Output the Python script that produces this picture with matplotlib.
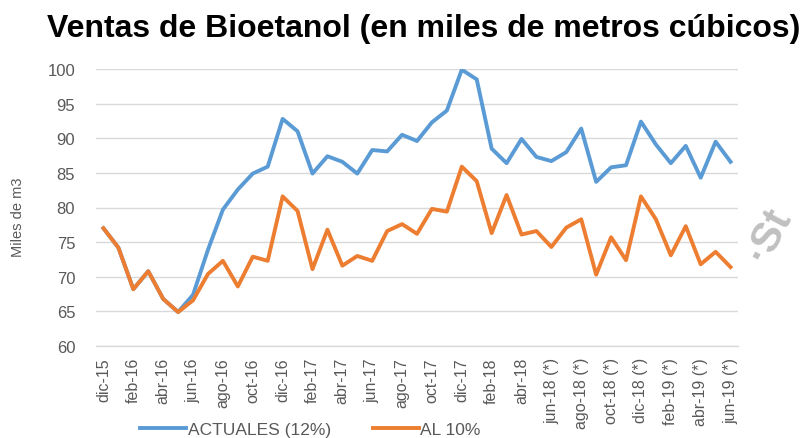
import matplotlib
matplotlib.use("Agg")
import matplotlib.pyplot as plt

plt.rcParams['font.family'] = ['Liberation Sans', 'DejaVu Sans']

months = ["dic-15", "ene-16", "feb-16", "mar-16", "abr-16", "may-16", "jun-16", "jul-16",
          "ago-16", "sep-16", "oct-16", "nov-16", "dic-16", "ene-17", "feb-17", "mar-17",
          "abr-17", "may-17", "jun-17", "jul-17", "ago-17", "sep-17", "oct-17", "nov-17",
          "dic-17", "ene-18", "feb-18", "mar-18", "abr-18", "may-18", "jun-18 (*)", "jul-18 (*)",
          "ago-18 (*)", "sep-18 (*)", "oct-18 (*)", "nov-18 (*)", "dic-18 (*)", "ene-19 (*)",
          "feb-19 (*)", "mar-19 (*)", "abr-19 (*)", "may-19 (*)", "jun-19 (*)"]

actuales = [77.0, 74.2, 68.2, 70.8, 66.8, 64.9, 67.4, 73.9, 79.7, 82.6, 84.9, 85.9,
            92.8, 91.0, 84.9, 87.4, 86.6, 84.9, 88.3, 88.1, 90.5, 89.6, 92.3, 94.0,
            99.9, 98.5, 88.5, 86.4, 89.9, 87.3, 86.7, 88.0, 91.4, 83.7, 85.8, 86.1,
            92.4, 89.1, 86.4, 88.9, 84.3, 89.5, 86.6]

al10 = [77.0, 74.2, 68.2, 70.8, 66.8, 64.9, 66.6, 70.4, 72.3, 68.6, 72.9, 72.3,
        81.6, 79.5, 71.1, 76.8, 71.6, 73.0, 72.3, 76.6, 77.6, 76.2, 79.8, 79.4,
        85.9, 83.8, 76.3, 81.8, 76.1, 76.6, 74.3, 77.1, 78.3, 70.3, 75.7, 72.4,
        81.6, 78.3, 73.1, 77.3, 71.8, 73.6, 71.4]

yticks = [60, 65, 70, 75, 80, 85, 90, 95, 100]

fig = plt.figure(figsize=(8.05, 4.39), dpi=100)
ax = fig.add_axes([96/805, 1 - 347/439, (738 - 96)/805, (347 - 70)/439])

x = list(range(len(months)))
ax.plot(x, actuales, color="#5B9BD5", lw=2.8, solid_joinstyle="round", label="ACTUALES (12%)", zorder=3)
ax.plot(x, al10, color="#ED7D31", lw=2.8, solid_joinstyle="round", label="AL 10%", zorder=4)

ax.set_xlim(-0.5, len(months) - 0.5)
ax.set_ylim(60, 100)
ax.set_yticks(yticks)
ax.set_yticklabels([str(v) for v in yticks])
ax.grid(axis="y", color="#d9d9d9", lw=1.0)
ax.set_axisbelow(True)
for s in ["top", "right", "left"]:
    ax.spines[s].set_visible(False)
ax.spines["bottom"].set_color("#d9d9d9")
ax.spines["bottom"].set_linewidth(1.0)

ax.set_xticks(x[::2])
ax.set_xticklabels(months[::2], rotation=90, fontsize=11.5, color="#595959")
ax.tick_params(axis="x", length=0, pad=8)
ax.tick_params(axis="y", length=0, pad=15, labelsize=12, labelcolor="#595959")

fig.text(18/805, 1 - 217/439, "Miles de m3", rotation=90, fontsize=10.5, color="#595959",
         ha="center", va="center")

fig.text(424/805, 1 - 37/439, "Ventas de Bioetanol (en miles de metros cúbicos)",
         fontsize=23, fontweight="bold", ha="center", va="baseline", color="black")

leg = fig.legend(loc="center left", bbox_to_anchor=(140/805, 1 - 430/439), ncol=2, frameon=False,
                 fontsize=12.5, handlelength=2.65, handletextpad=0.1, columnspacing=2.4,
                 borderaxespad=0, borderpad=0)
for t in leg.get_texts():
    t.set_color("#595959")

fig.text(768/805, 1 - 235/439, "\u00b7St", rotation=62, fontsize=30, fontweight="bold",
         color="#c0c0c0", ha="center", va="center")

fig.savefig("out.png", dpi=100)
